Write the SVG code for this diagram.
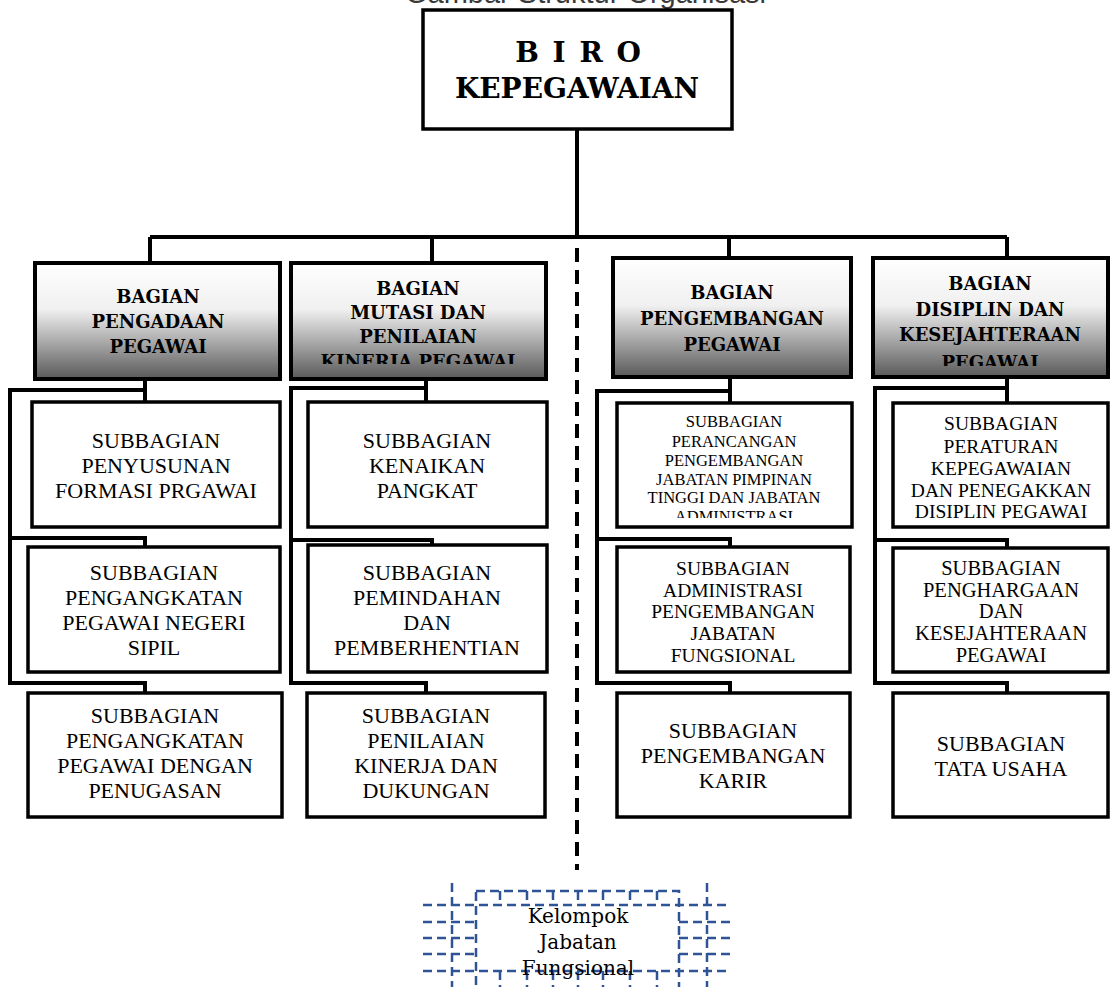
<svg xmlns="http://www.w3.org/2000/svg" width="1111" height="987" viewBox="0 0 1111 987">
<defs>
<linearGradient id="grad" x1="0" y1="0" x2="0" y2="1">
<stop offset="0" stop-color="#ffffff"/>
<stop offset="0.4" stop-color="#f0f0f0"/>
<stop offset="1" stop-color="#595959"/>
</linearGradient>
<clipPath id="clip2"><rect x="291" y="263" width="255" height="101"/></clipPath>
<clipPath id="clip4"><rect x="873" y="258" width="235" height="108"/></clipPath>
<clipPath id="clipC1"><rect x="617" y="403" width="235" height="115"/></clipPath>
</defs>
<style>
.box{fill:#ffffff;stroke:#000000;stroke-width:3.5}
.bag{fill:url(#grad);stroke:#000000;stroke-width:4}
.conn{fill:none;stroke:#000000;stroke-width:4}
.dash{stroke-dasharray:14 8}
.h{font-family:"DejaVu Serif","Liberation Serif",serif;font-weight:bold;font-size:18px;text-anchor:middle;fill:#000}
.t{font-family:"DejaVu Serif","Liberation Serif",serif;font-weight:bold;font-size:28px;text-anchor:middle;fill:#000}
.s{font-family:"Liberation Serif",serif;font-size:22px;text-anchor:middle;fill:#000}
.s19{font-family:"Liberation Serif",serif;font-size:19.5px;text-anchor:middle;fill:#000}
.s20{font-family:"Liberation Serif",serif;font-size:20.5px;text-anchor:middle;fill:#000}
.s16{font-family:"Liberation Serif",serif;font-size:16.5px;text-anchor:middle;fill:#000}
.k{font-family:"DejaVu Serif","Liberation Serif",serif;font-size:20px;text-anchor:middle;fill:#000}
.blue{fill:none;stroke:#2f5496;stroke-width:2.5;stroke-dasharray:9 5}
.title{font-family:"Liberation Sans",Arial,sans-serif;font-size:29px;fill:#3a3a3a}
</style>

<text class="title" x="405" y="3">Gambar Struktur Organisasi</text>

<g id="connectors">
<path class="conn" d="M577,129 V237 M150,237 H1007 M150,237 V263 M432,237 V263 M729,237 V258 M1007,237 V258"/>
<path class="conn dash" d="M577,248 V870"/>
<path class="conn" d="M145,379 V402 M145,390 H10 V683 H145 V693 M10,538 H145 V547"/>
<path class="conn" d="M426,379 V402 M426,388 H291 V683 H426 V693 M291,540 H432 V545"/>
<path class="conn" d="M730,377 V403 M730,391 H597 V683 H730 V693 M597,539 H730 V547"/>
<path class="conn" d="M1007,377 V403 M1007,388 H875 V683 H1007 V693 M875,540 H1007 V548"/>
</g>

<g id="biro">
<rect class="box" x="423" y="10" width="309" height="119"/>
<text class="t" x="579" y="62" letter-spacing="2">B I R O</text>
<text class="t" x="577" y="98">KEPEGAWAIAN</text>
</g>

<g id="bagian-pengadaan">
<rect class="bag" x="35" y="263" width="245" height="116"/>
<text class="h" x="158" y="303">BAGIAN</text>
<text class="h" x="158" y="328">PENGADAAN</text>
<text class="h" x="158" y="353">PEGAWAI</text>
</g>

<g id="bagian-mutasi">
<rect class="bag" x="291" y="263" width="255" height="116"/>
<g clip-path="url(#clip2)">
<text class="h" x="418" y="295">BAGIAN</text>
<text class="h" x="418" y="319">MUTASI DAN</text>
<text class="h" x="418" y="343">PENILAIAN</text>
<text class="h" x="418" y="368">KINERJA PEGAWAI</text>
</g>
</g>

<g id="bagian-pengembangan">
<rect class="bag" x="613" y="258" width="238" height="119"/>
<text class="h" x="732" y="299">BAGIAN</text>
<text class="h" x="732" y="325">PENGEMBANGAN</text>
<text class="h" x="732" y="351">PEGAWAI</text>
</g>

<g id="bagian-disiplin">
<rect class="bag" x="873" y="258" width="235" height="119"/>
<g clip-path="url(#clip4)">
<text class="h" x="990" y="290">BAGIAN</text>
<text class="h" x="990" y="316">DISIPLIN DAN</text>
<text class="h" x="990" y="341">KESEJAHTERAAN</text>
<text class="h" x="990" y="369">PEGAWAI</text>
</g>
</g>

<g id="sub-a1">
<rect class="box" x="32" y="402" width="248" height="125"/>
<text class="s" x="156" y="448">SUBBAGIAN</text>
<text class="s" x="156" y="473">PENYUSUNAN</text>
<text class="s" x="156" y="498">FORMASI PRGAWAI</text>
</g>
<g id="sub-a2">
<rect class="box" x="28" y="547" width="252" height="125"/>
<text class="s" x="154" y="580">SUBBAGIAN</text>
<text class="s" x="154" y="605">PENGANGKATAN</text>
<text class="s" x="154" y="630">PEGAWAI NEGERI</text>
<text class="s" x="154" y="655">SIPIL</text>
</g>
<g id="sub-a3">
<rect class="box" x="28" y="693" width="254" height="124"/>
<text class="s" x="155" y="723">SUBBAGIAN</text>
<text class="s" x="155" y="748">PENGANGKATAN</text>
<text class="s" x="155" y="773">PEGAWAI DENGAN</text>
<text class="s" x="155" y="798">PENUGASAN</text>
</g>

<g id="sub-b1">
<rect class="box" x="308" y="402" width="239" height="125"/>
<text class="s" x="427" y="448">SUBBAGIAN</text>
<text class="s" x="427" y="473">KENAIKAN</text>
<text class="s" x="427" y="498">PANGKAT</text>
</g>
<g id="sub-b2">
<rect class="box" x="308" y="545" width="239" height="127"/>
<text class="s" x="427" y="580">SUBBAGIAN</text>
<text class="s" x="427" y="605">PEMINDAHAN</text>
<text class="s" x="427" y="630">DAN</text>
<text class="s" x="427" y="655">PEMBERHENTIAN</text>
</g>
<g id="sub-b3">
<rect class="box" x="307" y="693" width="238" height="124"/>
<text class="s" x="426" y="723">SUBBAGIAN</text>
<text class="s" x="426" y="748">PENILAIAN</text>
<text class="s" x="426" y="773">KINERJA DAN</text>
<text class="s" x="426" y="798">DUKUNGAN</text>
</g>

<g id="sub-c1">
<rect class="box" x="617" y="403" width="235" height="124"/>
<g clip-path="url(#clipC1)">
<text class="s16" x="734" y="427">SUBBAGIAN</text>
<text class="s16" x="734" y="447">PERANCANGAN</text>
<text class="s16" x="734" y="466">PENGEMBANGAN</text>
<text class="s16" x="734" y="485">JABATAN PIMPINAN</text>
<text class="s16" x="734" y="503">TINGGI DAN JABATAN</text>
<text class="s16" x="734" y="522">ADMINISTRASI</text>
</g>
</g>
<g id="sub-c2">
<rect class="box" x="617" y="547" width="233" height="125"/>
<text class="s19" x="733" y="575">SUBBAGIAN</text>
<text class="s19" x="733" y="597">ADMINISTRASI</text>
<text class="s19" x="733" y="618">PENGEMBANGAN</text>
<text class="s19" x="733" y="640">JABATAN</text>
<text class="s19" x="733" y="662">FUNGSIONAL</text>
</g>
<g id="sub-c3">
<rect class="box" x="617" y="693" width="233" height="124"/>
<text class="s" x="733" y="738">SUBBAGIAN</text>
<text class="s" x="733" y="763">PENGEMBANGAN</text>
<text class="s" x="733" y="788">KARIR</text>
</g>

<g id="sub-d1">
<rect class="box" x="893" y="403" width="215" height="124"/>
<text class="s19" x="1001" y="430">SUBBAGIAN</text>
<text class="s19" x="1001" y="453">PERATURAN</text>
<text class="s19" x="1001" y="475">KEPEGAWAIAN</text>
<text class="s19" x="1001" y="497">DAN PENEGAKKAN</text>
<text class="s19" x="1001" y="518">DISIPLIN PEGAWAI</text>
</g>
<g id="sub-d2">
<rect class="box" x="893" y="548" width="215" height="124"/>
<text class="s20" x="1001" y="575">SUBBAGIAN</text>
<text class="s20" x="1001" y="597">PENGHARGAAN</text>
<text class="s20" x="1001" y="618">DAN</text>
<text class="s20" x="1001" y="640">KESEJAHTERAAN</text>
<text class="s20" x="1001" y="662">PEGAWAI</text>
</g>
<g id="sub-d3">
<rect class="box" x="893" y="693" width="215" height="124"/>
<text class="s" x="1001" y="751">SUBBAGIAN</text>
<text class="s" x="1001" y="776">TATA USAHA</text>
</g>

<g id="kelompok">
<rect class="blue" x="476" y="891" width="203" height="110"/>
<path class="blue" d="M423,905 H730 M423,971 H730 M423,922 H476 M679,922 H730 M423,938 H476 M679,938 H730 M423,954 H476 M679,954 H730 M452,883 V987 M707,883 V987 M500,891 V905 M527,891 V905 M553,891 V905 M578,891 V905 M603,891 V905 M630,891 V905 M657,891 V905 M500,971 V987 M527,971 V987 M553,971 V987 M578,971 V987 M603,971 V987 M630,971 V987 M657,971 V987"/>
<text class="k" x="578" y="923">Kelompok</text>
<text class="k" x="578" y="949">Jabatan</text>
<text class="k" x="578" y="975">Fungsional</text>
</g>
</svg>
